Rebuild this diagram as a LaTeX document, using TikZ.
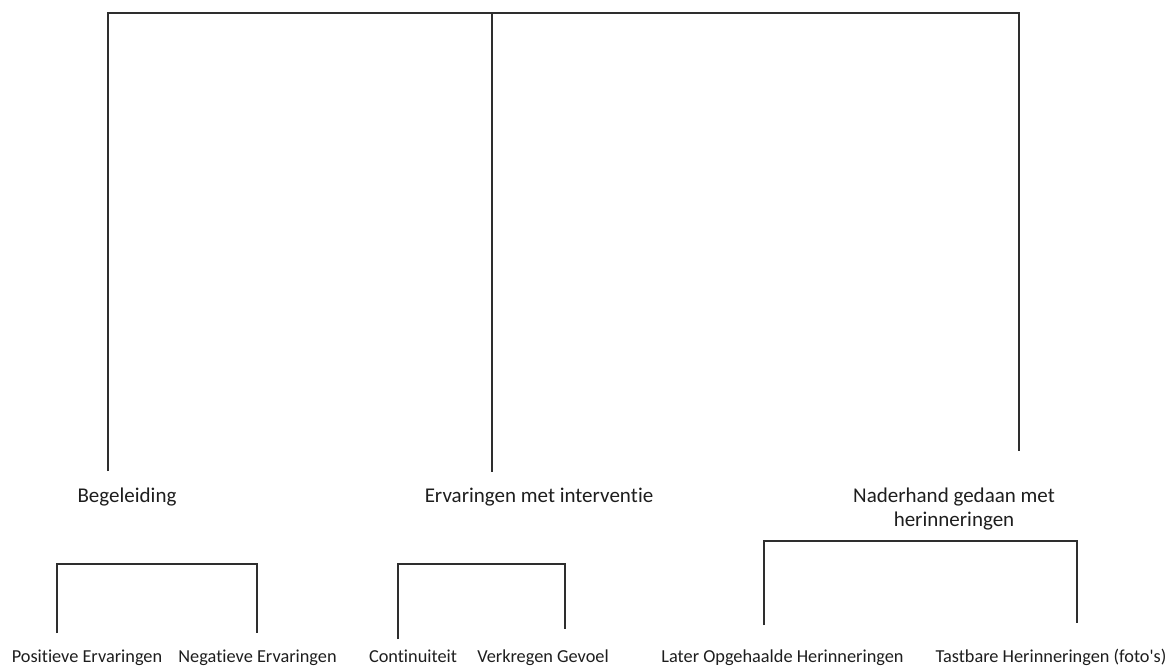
\documentclass[tikz,border=0pt]{standalone}
\usepackage{fontspec}
\defaultfontfeatures{}
\defaultfontfeatures[\rmfamily]{}
\setmainfont{Carlito}[RawFeature={-liga;-clig;-dlig}]
\definecolor{linegray}{HTML}{2E2E2E}
\definecolor{textgray}{HTML}{1E1E1E}
\begin{document}
\begin{tikzpicture}[x=1pt,y=-1pt,
  conn/.style={draw=linegray,line width=2pt,line join=miter},
  toplabel/.style={font=\fontsize{21}{24}\selectfont,text=textgray,inner sep=0pt,align=center},
  leaflabel/.style={font=\fontsize{18.3}{22}\selectfont,text=textgray,inner sep=0pt,anchor=base}]
\useasboundingbox[fill=white] (0,0) rectangle (1173,666);
% top tree
\coordinate (ta) at (108,13);
\coordinate (tb) at (492,13);
\coordinate (tc) at (1019,13);
\coordinate (ea) at (108,471);
\coordinate (eb) at (492,472);
\coordinate (ec) at (1019,451);
\draw[conn] (ea) -- (ta) -- (tc) -- (ec);
\draw[conn] (tb) -- (eb);
% labels
\node[toplabel] (beg) at (127,497) {Begeleiding};
\node[toplabel] (erv) at (539,497) {Ervaringen met interven\kern0pt tie};
\node[toplabel] (nad) at (954,509) {Naderhand gedaan met\\herinneringen};
% left bracket
\coordinate (la) at (57,564);
\coordinate (lb) at (257,564);
\coordinate (la2) at (57,633);
\coordinate (lb2) at (257,633);
\draw[conn] (la2) -- (la) -- (lb) -- (lb2);
% middle bracket
\coordinate (ma) at (398,564);
\coordinate (mb) at (565,564);
\coordinate (ma2) at (398,639);
\coordinate (mb2) at (565,629);
\draw[conn] (ma2) -- (ma) -- (mb) -- (mb2);
% right bracket
\coordinate (ra) at (764,541);
\coordinate (rb) at (1077,541);
\coordinate (ra2) at (764,625);
\coordinate (rb2) at (1077,623);
\draw[conn] (ra2) -- (ra) -- (rb) -- (rb2);
% leaf labels
\node[leaflabel] (pos) at (87,662) {Posi\kern0pt tieve Ervaringen};
\node[leaflabel] (neg) at (257.5,662) {Nega\kern0pt tieve Ervaringen};
\node[leaflabel] (con) at (413,662) {Continuiteit};
\node[leaflabel] (ver) at (543,662) {Verkregen Gevoel};
\node[leaflabel] (lat) at (782.5,662) {Later Opgehaalde Herinneringen};
\node[leaflabel] (tas) at (1051,662) {Tastbare Herinneringen (foto's)};
\end{tikzpicture}
\end{document}
